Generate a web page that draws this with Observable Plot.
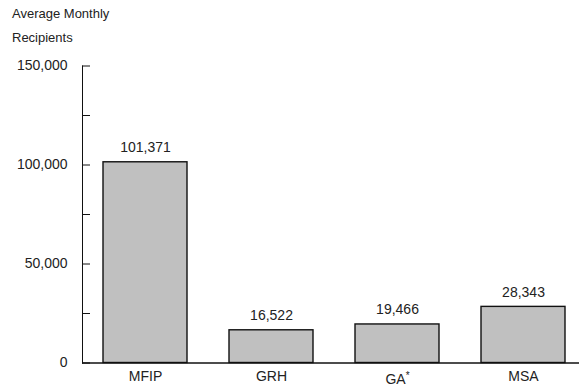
<!DOCTYPE html>
<html><head><meta charset="utf-8">
<script src="https://cdn.jsdelivr.net/npm/d3@7"></script>
<script src="https://cdn.jsdelivr.net/npm/@observablehq/plot@0.6"></script>
<style>
body{margin:0;background:#fff;font-family:"Liberation Sans",Arial,sans-serif;}
#title{height:52px;padding-left:12px;padding-top:2px;font-size:13px;line-height:24px;color:#222;box-sizing:border-box}
</style></head><body>
<div id="title">Average Monthly<br>Recipients</div>
<div id="chart"></div>
<script>
const programs = ["MFIP", "GRH", "GA*", "MSA"];
const recipients = [101371, 16522, 19466, 28343];
const valueLabels = ["101,371", "16,522", "19,466", "28,343"];
const majorTicks = [0, 50000, 100000, 150000];
const minorTicks = [25000, 75000, 125000];

const data = programs.map((p, i) => ({program: p, value: recipients[i], label: valueLabels[i]}));

const plot = Plot.plot({
  width: 579, height: 334,
  marginLeft: 82, marginRight: 0, marginTop: 13.5, marginBottom: 23.5,
  style: {fontFamily: '"Liberation Sans", Arial, sans-serif', fontSize: "14px", color: "#222", background: "#fff"},
  x: {domain: programs, range: [102, 567], paddingInner: 0.33, paddingOuter: 0, label: null},
  y: {domain: [0, 150000], label: null},
  marks: [
    Plot.barY(data, {x: "program", y: "value", fill: "#c0c0c0", stroke: "#111", strokeWidth: 1.4}),
    Plot.text(data, {x: "program", y: "value", text: "label", lineAnchor: "bottom", dy: -10, fill: "#222"}),
    Plot.axisY(majorTicks, {tickSize: 0, tickPadding: 15, tickFormat: d3.format(","), label: null}),
    Plot.axisY([...majorTicks, ...minorTicks], {tickSize: -8, tickFormat: () => "", label: null, stroke: "#111"}),
    Plot.frame({anchor: "left", stroke: "#111"}),
    Plot.ruleY([0], {stroke: "#111", strokeWidth: 1.5}),
    Plot.axisX({tickSize: 0, tickPadding: 8, label: null})
  ]
});
// render the footnote asterisk of "GA*" as a superscript
d3.select(plot).selectAll("text").filter(function() { return this.textContent === "GA*"; })
  .each(function() {
    const t = d3.select(this);
    t.text(null);
    t.append("tspan").attr("dy", "3").text("GA");
    t.append("tspan").attr("dy", "-5").attr("font-size", "10").text("*");
  });
document.getElementById("chart").appendChild(plot);
</script>
</body></html>
